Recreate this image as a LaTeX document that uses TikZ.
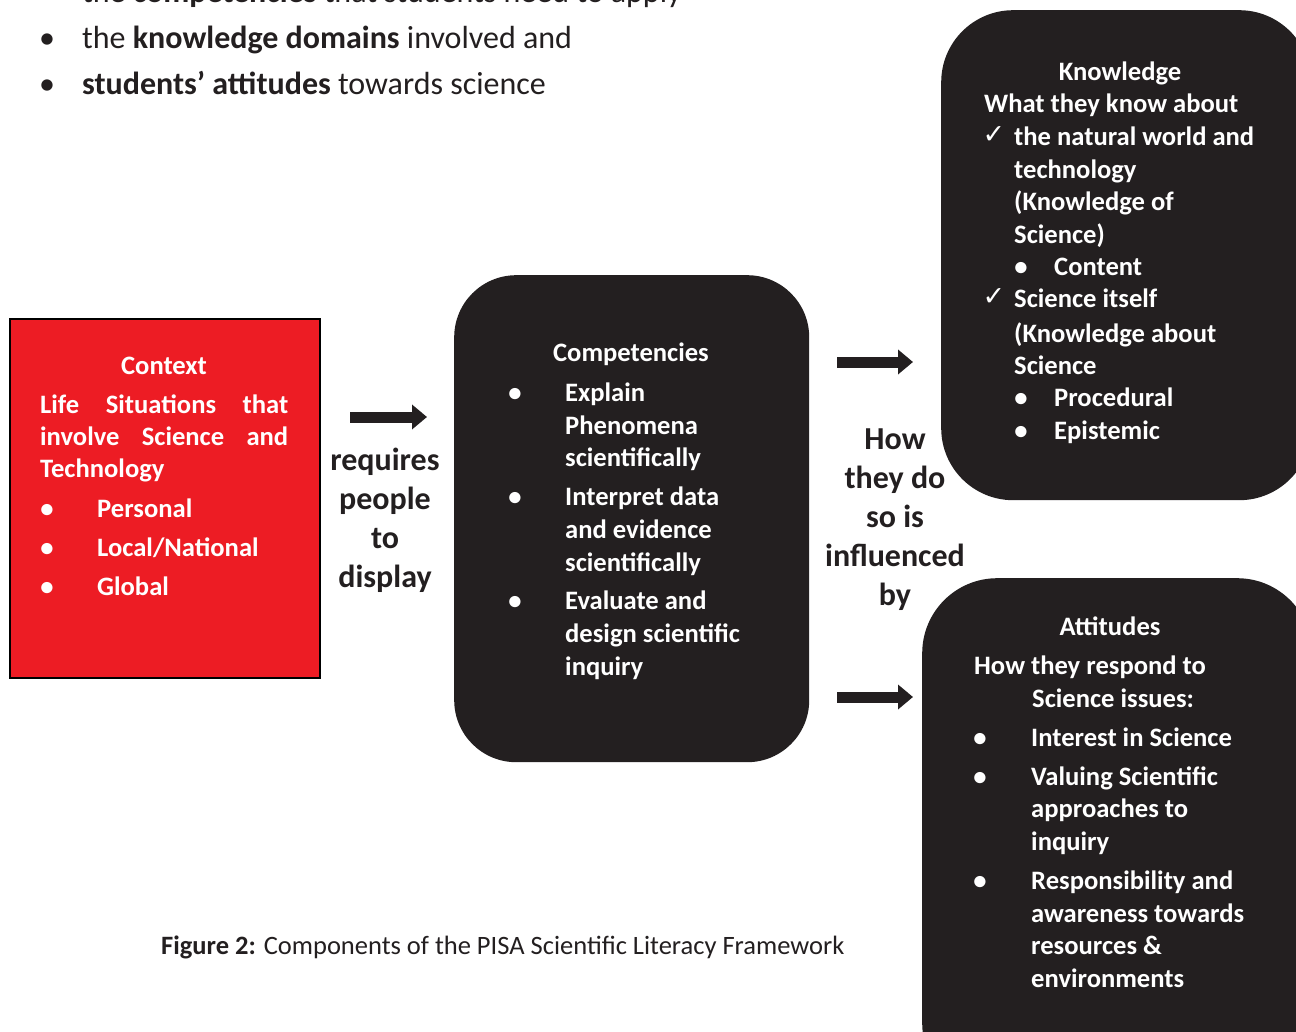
\documentclass[tikz,border=0pt]{standalone}
\usepackage{fontspec}
\setmainfont{Carlito}
\newfontfamily\symfont{DejaVu Sans}
\usetikzlibrary{arrows.meta,positioning}
\definecolor{ctxred}{RGB}{237,28,36}
\definecolor{boxblack}{RGB}{35,31,32}
\definecolor{inktext}{RGB}{35,31,32}
\tikzset{
  boxtxt/.style={anchor=base west,inner sep=0pt,text=white,
                 font=\bfseries\fontsize{26.6}{30}\selectfont},
  boxhead/.style={boxtxt,anchor=base},
  bulletmark/.style={boxtxt,anchor=base},
  checkmark/.style={anchor=base,inner sep=0pt,text=white,
                    font=\symfont\fontsize{27}{30}\selectfont},
  blackbox/.style={fill=boxblack,draw=none,anchor=north west,inner sep=0pt},
  ctxbox/.style={fill=ctxred,draw=black,line width=2pt,anchor=north west,inner sep=0pt},
  fatarrow/.style={draw=boxblack,line width=11pt,-{Triangle[length=15pt,width=24pt]}},
  linktxt/.style={anchor=base,inner sep=0pt,text=inktext,
                  font=\bfseries\fontsize{32}{39}\selectfont},
  toptxt/.style={anchor=base west,inner sep=0pt,text=inktext,
                 font=\fontsize{32}{36}\selectfont},
}

\begin{document}
\begin{tikzpicture}[x=1pt,y=-1pt]
  \clip (0,0) rectangle (1296,1032);
  \fill[white] (0,0) rectangle (1296,1032);
  % lead-in list
  \foreach \y/\t [count=\i] in {3/{the \textbf{competencies} that students need to apply},
      49/{the \textbf{knowledge domains} involved and},
      95/{\textbf{students’ attitudes} towards science}}{
    \node[toptxt,anchor=base] (tb\i) at (47,\y) {\textbullet};
    \node[toptxt] (tl\i) at (82,\y) {\t};
  }
  % boxes
  \node[ctxbox,minimum width=310pt,minimum height=359pt] (ctx) at (9,318) {};
  \node[blackbox,rounded corners=62pt,minimum width=355pt,minimum height=487pt] (comp) at (454,275) {};
  \node[blackbox,rounded corners=72pt,minimum width=370pt,minimum height=490pt] (know) at (941,10) {};
  \node[blackbox,rounded corners=75pt,minimum width=390pt,minimum height=520pt] (att) at (922,578) {};
  % arrows
  \coordinate (a1s) at (350,417); \coordinate (a1e) at (427,417);
  \coordinate (a2s) at (837,362); \coordinate (a2e) at (913,362);
  \coordinate (a3s) at (837,697); \coordinate (a3e) at (913,697);
  \draw[fatarrow] (a1s) -- (a1e);
  \draw[fatarrow] (a2s) -- (a2e);
  \draw[fatarrow] (a3s) -- (a3e);
  \foreach \y/\t [count=\i] in {470/requires,509/people,548/to,587/display}
    \node[linktxt] (req\i) at (385,\y) {\t};
  \foreach \y/\t [count=\i] in {449/How,488/they do,527/so is,566/influenced,605/by}
    \node[linktxt] (how\i) at (895,\y) {\t};
  % context
  \node[boxhead] (ctxhead) at (164,374) {Context};
  \foreach \y/\t [count=\i] in {413/Life Situations that,445/involve Science and}
    \node[boxtxt] (ctxl\i) at (40,\y) {\makebox[248pt][s]{\t}};
  \node[boxtxt] (ctxl3) at (40,477) {Technology};
  \foreach \y/\t [count=\i] in {517/Personal,556/{Local/National},595/Global}{
    \node[bulletmark] (ctxb\i) at (47,\y) {\textbullet};
    \node[boxtxt] (ctxi\i) at (97,\y) {\t};
  }
  % competencies
  \node[boxhead] (comphead) at (631,362) {Competencies};
  \foreach \y in {401,505,609}
    \node[bulletmark] (compb\y) at (515,\y) {\textbullet};
  \foreach \y/\t [count=\i] in {401/Explain,434/Phenomena,466/scientifically,
      505/Interpret data,538/and evidence,571/scientifically,
      609/Evaluate and,642/design scientific,675/inquiry}
    \node[boxtxt] (compl\i) at (565,\y) {\t};
  % knowledge
  \node[boxhead] (knowhead) at (1120,81) {Knowledge};
  \node[boxtxt] (knowsub) at (984,113) {What they know about};
  \node[checkmark] (knowc1) at (994,144) {✓};
  \node[checkmark] (knowc2) at (994,306) {✓};
  \foreach \y/\t [count=\i] in {146/the natural world and,179/technology,
      211/(Knowledge of,244/Science),308/Science itself,342/(Knowledge about,374/Science}
    \node[boxtxt] (knowl\i) at (1014,\y) {\t};
  \foreach \y/\t [count=\i] in {276/Content,406/Procedural,439/Epistemic}{
    \node[bulletmark] (knowb\i) at (1021,\y) {\textbullet};
    \node[boxtxt] (knowi\i) at (1054,\y) {\t};
  }
  % attitudes
  \node[boxhead] (atthead) at (1110,635) {Attitudes};
  \node[boxtxt] (attsub1) at (974,674) {How they respond to};
  \node[boxtxt] (attsub2) at (1032,707) {Science issues:};
  \foreach \y in {746,785,889}
    \node[bulletmark] (attb\y) at (980,\y) {\textbullet};
  \foreach \y/\t [count=\i] in {746/Interest in Science,785/Valuing Scientific,
      817/approaches to,850/inquiry,889/Responsibility and,922/awareness towards,
      954/resources \&,987/environments}
    \node[boxtxt] (attl\i) at (1031,\y) {\t};
  % caption
  \node[anchor=base west,inner sep=0pt,text=inktext,font=\fontsize{26.5}{30}\selectfont]
    (cap) at (161,954) {\textbf{Figure 2:} Components of the PISA Scientific Literacy Framework};
\end{tikzpicture}
\end{document}
